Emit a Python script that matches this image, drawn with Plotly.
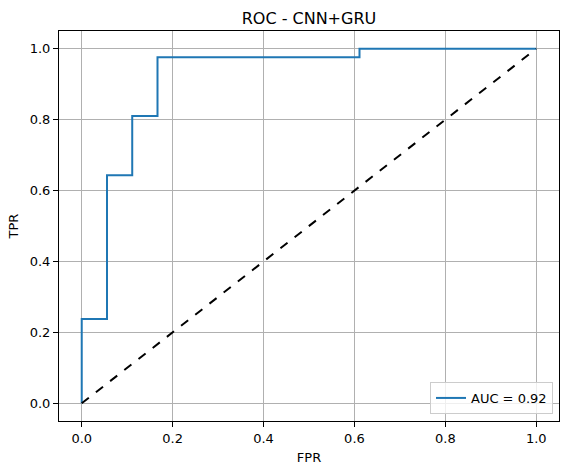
import plotly.graph_objects as go

fpr = [0.0, 0.0, 0.0556, 0.0556, 0.1111, 0.1111, 0.1667, 0.1667, 0.6111, 0.6111, 1.0]
tpr = [0.0, 0.238, 0.238, 0.643, 0.643, 0.810, 0.810, 0.976, 0.976, 1.0, 1.0]
diag_x = [0.0, 1.0]
diag_y = [0.0, 1.0]
auc_label = "AUC = 0.92"
tick_vals = [0.0, 0.2, 0.4, 0.6, 0.8, 1.0]
tick_text = ["0.0", "0.2", "0.4", "0.6", "0.8", "1.0"]

fig = go.Figure()
fig.add_trace(go.Scatter(x=fpr, y=tpr, mode="lines", name=auc_label,
                         line=dict(color="#1f77b4", width=2)))
fig.add_trace(go.Scatter(x=diag_x, y=diag_y, mode="lines", showlegend=False,
                         line=dict(color="black", width=2, dash="dash")))

axis_common = dict(
    showgrid=True, gridcolor="#b0b0b0", gridwidth=1,
    zeroline=False, showline=True, linecolor="black", linewidth=1, mirror=True,
    ticks="outside", ticklen=5, tickcolor="black", tickwidth=1,
    tickvals=tick_vals, ticktext=tick_text,
    tickfont=dict(family="DejaVu Sans", size=13, color="black"),
    range=[-0.05, 1.05],
)

fig.update_layout(
    width=569, height=472,
    margin=dict(l=59, r=10, t=31, b=51),
    paper_bgcolor="white", plot_bgcolor="white",
    font=dict(family="DejaVu Sans", color="black"),
    title=dict(text="ROC - CNN+GRU", x=0.543, xanchor="center", y=0.962, yanchor="middle",
               font=dict(family="DejaVu Sans", size=16, color="black")),
    xaxis=dict(axis_common, title=dict(text="FPR", font=dict(size=13), standoff=8)),
    yaxis=dict(axis_common, title=dict(text="TPR", font=dict(size=13), standoff=8)),
    legend=dict(x=0.988, y=0.018, xanchor="right", yanchor="bottom",
                bgcolor="rgba(255,255,255,0.8)", bordercolor="#cccccc", borderwidth=1,
                font=dict(family="DejaVu Sans", size=13, color="black")),
)

fig.write_html("out.html")
